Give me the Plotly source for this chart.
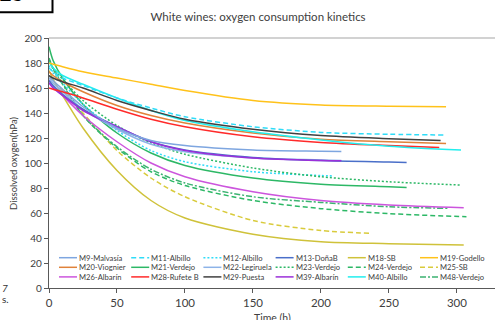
import plotly.graph_objects as go

# ---------------- data ----------------
names = ["M9-Malvasía", "M11-Albillo", "M12-Albillo", "M13-DoñaB", "M18-SB", "M19-Godello",
         "M20-Viognier", "M21-Verdejo", "M22-Legiruela", "M23-Verdejo", "M24-Verdejo", "M25-SB",
         "M26-Albarín", "M28-Rufete B", "M29-Puesta", "M39-Albarín", "M40-Albillo", "M48-Verdejo"]

t_M9 = [0, 3, 10, 25, 50, 75, 100, 150, 200, 215]
v_M9 = [170, 166, 159, 145, 128, 118, 114, 110.5, 109.5, 109.2]

t_M11 = [0, 3, 10, 25, 50, 75, 100, 150, 200, 250, 292]
v_M11 = [176, 173, 168, 162, 152, 144, 137, 129, 124.5, 123, 122.4]

t_M12 = [0, 3, 10, 25, 50, 75, 100, 150, 200, 209]
v_M12 = [178, 172, 164, 147, 126, 110, 101, 93, 90, 89.6]

t_M13 = [0, 3, 10, 25, 50, 75, 100, 150, 200, 250, 263]
v_M13 = [166, 162, 155, 143, 129, 117, 110.5, 104.5, 102, 100.8, 100.5]

t_M18 = [0, 3, 10, 25, 50, 75, 100, 150, 200, 250, 305]
v_M18 = [174, 167, 154, 128, 94, 70, 56, 43, 37, 35.5, 34.4]

t_M19 = [0, 10, 25, 50, 75, 100, 150, 200, 250, 292]
v_M19 = [180, 177, 173, 168, 163, 158, 150, 146.5, 145.5, 145]

t_M20 = [0, 3, 10, 25, 50, 75, 100, 150, 200, 250, 292]
v_M20 = [173, 170, 165, 157, 146, 138, 132, 124, 119, 117, 115.7]

t_M21 = [0, 3, 10, 25, 50, 75, 100, 150, 200, 250, 263]
v_M21 = [193, 182, 168, 147, 124, 108, 98, 88, 83, 81, 80.5]

t_M22 = [0, 3, 10, 25, 50, 75, 100, 150, 200, 215]
v_M22 = [168, 164, 157, 143, 127, 115, 109, 104, 102.5, 102]

t_M23 = [0, 3, 10, 25, 50, 75, 100, 150, 200, 250, 302]
v_M23 = [182, 176, 167, 150, 130, 116, 107, 96, 89, 85, 82.4]

t_M24 = [0, 3, 10, 25, 50, 75, 100, 150, 200, 250, 307]
v_M24 = [184, 176, 164, 138, 112, 93, 82, 70, 63.5, 59.5, 57]

t_M25 = [0, 3, 10, 25, 50, 75, 100, 150, 200, 237]
v_M25 = [170, 166, 158, 140, 110, 88, 73, 54, 46, 43.7]

t_M26 = [0, 3, 10, 25, 50, 75, 100, 150, 200, 250, 305]
v_M26 = [166, 161, 154, 138, 117, 100, 89, 77, 70, 66.5, 64.3]

t_M28 = [0, 3, 10, 25, 50, 75, 100, 150, 200, 250, 287]
v_M28 = [160, 159, 157, 152, 143, 135, 129, 121, 116.5, 114, 112.5]

t_M29 = [0, 3, 10, 25, 50, 75, 100, 150, 200, 250, 288]
v_M29 = [170, 168, 165, 160, 150, 142, 135, 127, 122, 119.5, 118]

t_M39 = [0, 3, 10, 25, 50, 75, 100, 150, 200, 215]
v_M39 = [164, 160, 154, 142, 129, 117, 110, 104, 102, 101.8]

t_M40 = [0, 3, 10, 25, 50, 75, 100, 150, 200, 250, 303]
v_M40 = [181, 176, 170, 163, 152, 142, 134, 125, 118.5, 113.5, 110.4]

t_M48 = [0, 3, 10, 25, 50, 75, 100, 150, 200, 250, 294]
v_M48 = [183, 175, 163, 138, 113, 95, 84, 73, 68.5, 65, 63.7]

x_ticks = [0, 50, 100, 150, 200, 250, 300]
y_ticks = [0, 20, 40, 60, 80, 100, 120, 140, 160, 180, 200]

# ---------------- styles ----------------
DASH = "5px,3px"
DOT = "2px,2px"
DASHDOT = "6px,2px,2px,2px"
styles = {
    "M9-Malvasía": ("#7EA6E0", "solid"),
    "M11-Albillo": ("#2FDCF8", DASH),
    "M12-Albillo": ("#2FDCF8", DOT),
    "M13-DoñaB": ("#4A6FC9", "solid"),
    "M18-SB": ("#CFC23A", "solid"),
    "M19-Godello": ("#FFC21A", "solid"),
    "M20-Viognier": ("#E0823A", "solid"),
    "M21-Verdejo": ("#2DB866", "solid"),
    "M22-Legiruela": ("#8DB3E8", "solid"),
    "M23-Verdejo": ("#2DB866", DOT),
    "M24-Verdejo": ("#2DB866", DASH),
    "M25-SB": ("#D9CB3C", DASH),
    "M26-Albarín": ("#CC55DD", "solid"),
    "M28-Rufete B": ("#FF2A2A", "solid"),
    "M29-Puesta": ("#404040", "solid"),
    "M39-Albarín": ("#9B30D9", "solid"),
    "M40-Albillo": ("#22EEEE", "solid"),
    "M48-Verdejo": ("#3CB371", DASHDOT),
}
series = {
    "M9-Malvasía": (t_M9, v_M9), "M11-Albillo": (t_M11, v_M11), "M12-Albillo": (t_M12, v_M12),
    "M13-DoñaB": (t_M13, v_M13), "M18-SB": (t_M18, v_M18), "M19-Godello": (t_M19, v_M19),
    "M20-Viognier": (t_M20, v_M20), "M21-Verdejo": (t_M21, v_M21), "M22-Legiruela": (t_M22, v_M22),
    "M23-Verdejo": (t_M23, v_M23), "M24-Verdejo": (t_M24, v_M24), "M25-SB": (t_M25, v_M25),
    "M26-Albarín": (t_M26, v_M26), "M28-Rufete B": (t_M28, v_M28), "M29-Puesta": (t_M29, v_M29),
    "M39-Albarín": (t_M39, v_M39), "M40-Albillo": (t_M40, v_M40), "M48-Verdejo": (t_M48, v_M48),
}
draw_order = ["M18-SB", "M25-SB", "M24-Verdejo", "M48-Verdejo", "M26-Albarín", "M21-Verdejo",
              "M12-Albillo", "M23-Verdejo", "M22-Legiruela", "M13-DoñaB", "M39-Albarín", "M9-Malvasía",
              "M28-Rufete B", "M20-Viognier", "M40-Albillo", "M29-Puesta", "M11-Albillo", "M19-Godello"]

# ---------------- geometry ----------------
W, H = 495, 320
L, R, T, B = 49, 0, 38, 32
PW, PH = W - L - R, H - T - B


def px(x):
    return (x - L) / PW


def py(y):
    return (H - B - y) / PH


FONT = "Lato, 'Open Sans', sans-serif"
fig = go.Figure()
for n in draw_order:
    t, v = series[n]
    c, d = styles[n]
    fig.add_trace(go.Scatter(x=t, y=v, mode="lines", name=n, showlegend=False, hoverinfo="skip",
                             line=dict(color=c, width=1.5, dash=d, shape="spline", smoothing=0.8)))

shapes = []
annotations = []
# manual legend (compact, 6 columns x 3 rows)
for i, n in enumerate(names):
    col, row = i % 6, i // 6
    x0 = 59 + col * 72.2
    yy = 257.7 + row * 9.6
    c, d = styles[n]
    shapes.append(dict(type="line", xref="paper", yref="paper", x0=px(x0), x1=px(x0 + 18),
                       y0=py(yy), y1=py(yy), line=dict(color=c, width=1.5, dash=d)))
    annotations.append(dict(text=n, xref="paper", yref="paper", x=px(x0 + 18), y=py(yy),
                            xanchor="left", yanchor="middle", showarrow=False,
                            font=dict(family=FONT, size=7.6, color="#404040")))

# axis titles
annotations.append(dict(text="Time (h)", xref="paper", yref="paper", x=0.5, y=py(318),
                        xanchor="center", yanchor="middle", showarrow=False,
                        font=dict(family=FONT, size=10.5, color="#404040")))
annotations.append(dict(text="Dissolved oxygen(hPa)", xref="paper", yref="paper", x=px(13), y=0.5,
                        xanchor="center", yanchor="middle", showarrow=False, textangle=-90,
                        font=dict(family=FONT, size=9.5, color="#404040")))

# top border of plot area
shapes.append(dict(type="line", xref="paper", yref="paper", x0=0, x1=1, y0=1, y1=1,
                   line=dict(color="#a6a6a6", width=1.2)))
# figure-label box in the top-left corner (cropped)
shapes.append(dict(type="rect", xref="paper", yref="paper", x0=px(-6), x1=px(52.5),
                   y0=py(12.3), y1=py(-6), line=dict(color="#000", width=2)))
annotations.append(dict(text="<b>13</b>", xref="paper", yref="paper", x=px(-3), y=py(8),
                        xanchor="left", yanchor="bottom", showarrow=False,
                        font=dict(family="Liberation Sans", size=22, color="#000")))
# cropped text fragments at the left edge
annotations.append(dict(text="<i>7</i>", xref="paper", yref="paper", x=px(0), y=py(288),
                        xanchor="left", yanchor="middle", showarrow=False,
                        font=dict(family=FONT, size=10, color="#333")))
annotations.append(dict(text="s.", xref="paper", yref="paper", x=px(0), y=py(299),
                        xanchor="left", yanchor="middle", showarrow=False,
                        font=dict(family=FONT, size=10, color="#333")))

fig.update_layout(
    width=W, height=H,
    margin=dict(l=L, r=R, t=T, b=B, pad=0, autoexpand=False),
    paper_bgcolor="white", plot_bgcolor="white",
    hovermode=False,
    title=dict(text="White wines: oxygen consumption kinetics", x=258 / W, xanchor="center",
               y=1 - 17 / H, yanchor="middle",
               font=dict(family=FONT, size=11.5, color="#404040")),
    font=dict(family=FONT, color="#404040"),
    shapes=shapes, annotations=annotations,
    xaxis=dict(range=[0, 328], tickvals=x_ticks, showgrid=False, zeroline=False, automargin=False,
               showline=True, linecolor="#595959", linewidth=1.2,
               ticks="outside", ticklen=4, tickcolor="#595959",
               tickfont=dict(family=FONT, size=11.5, color="#404040")),
    yaxis=dict(range=[0, 200], tickvals=y_ticks, showgrid=False, zeroline=False, automargin=False,
               showline=True, linecolor="#595959", linewidth=1.2,
               ticks="outside", ticklen=4, tickcolor="#595959",
               tickfont=dict(family=FONT, size=10, color="#404040")),
)

fig.write_html("out.html", config={"displayModeBar": False},
               post_script="document.body.style.margin='0px';document.body.style.overflow='hidden';")
